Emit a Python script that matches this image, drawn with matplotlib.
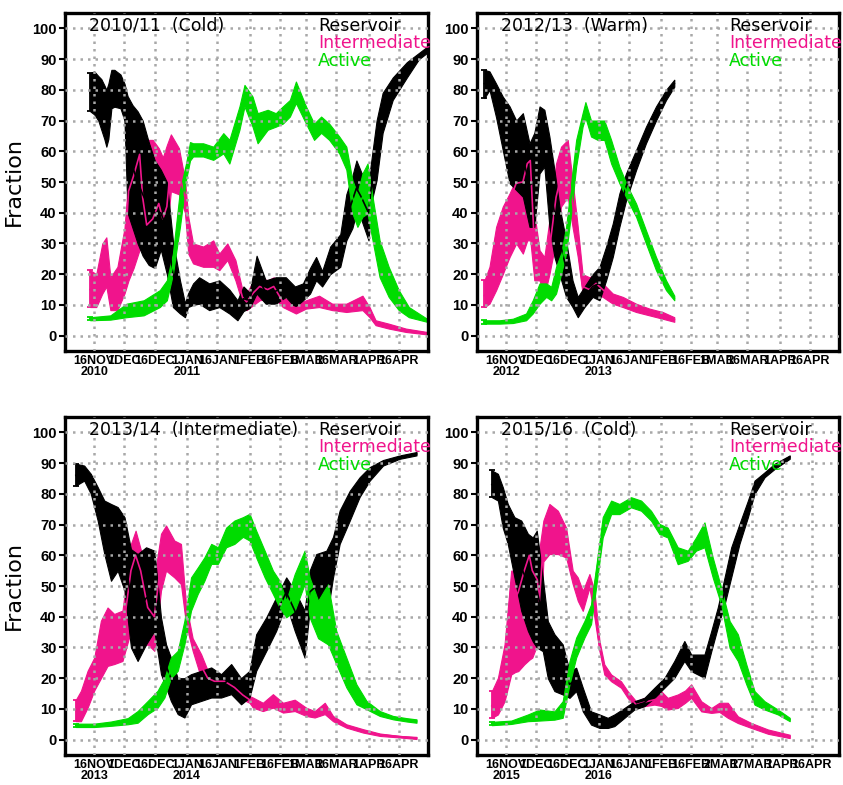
import datetime as dt
import matplotlib
matplotlib.use("Agg")
import matplotlib.pyplot as plt
from matplotlib import font_manager

# ---------------- data ----------------
SEASONS = ["2010/11", "2012/13", "2013/14", "2015/16"]
REGIMES = ["Cold", "Warm", "Intermediate", "Cold"]
START_YEARS = [2010, 2012, 2013, 2015]
SERIES_NAMES = ["Reservoir", "Intermediate", "Active"]

TICKS_STD = ["16NOV", "1DEC", "16DEC", "1JAN", "16JAN", "1FEB", "16FEB",
             "1MAR", "16MAR", "1APR", "16APR"]
TICKS_LEAP = ["16NOV", "1DEC", "16DEC", "1JAN", "16JAN", "1FEB", "16FEB",
              "2MAR", "17MAR", "1APR", "16APR"]
YTICKS = [0, 10, 20, 30, 40, 50, 60, 70, 80, 90, 100]

# rows: (day since 1 Nov, low, centre, high) in percent
P1_RES = [(13, 73, 79, 85.5), (15, 72, 79, 86), (17, 70, 77, 84.5), (18.5, 67, 75, 83.5),
          (20, 64, 72, 81.5), (21, 61.5, 70, 80), (22, 64, 73, 82), (23.5, 74, 80, 86.5),
          (25, 74.5, 80, 86.5), (28, 74, 79, 85), (30, 70, 76, 82), (31.5, 40, 58, 78),
          (34, 35, 55, 75), (36.5, 30, 50, 73), (39, 26, 46, 70), (42, 23, 42, 63),
          (45, 22, 40, 57), (48, 28, 40, 54), (51, 20, 35, 50), (54, 9.3, 20, 31),
          (57.5, 7.2, 12, 18), (60, 6, 8, 10.5), (61.5, 9.3, 11.5, 13.7), (64, 10, 13.5, 17),
          (67, 10.4, 15, 19), (72, 8.3, 12.5, 17), (77, 9.3, 13.5, 18), (82, 7.2, 11, 15),
          (86, 5, 8, 11.5), (89, 8, 12, 16), (92, 9, 11.5, 14), (95.5, 13.7, 20, 26),
          (100, 10.4, 14, 18), (105, 10.4, 14.5, 19), (110, 12.6, 16, 19), (114.5, 9.3, 12.5, 16),
          (118.5, 11.5, 14, 17), (122, 13.7, 18, 22), (125, 18, 22, 25.6), (128, 16, 18.5, 21),
          (132, 20, 24.5, 29), (137, 22.4, 28, 33), (140, 31, 38, 46), (143, 35, 44, 52),
          (145, 40, 48, 57), (147.5, 37.6, 45, 53), (151, 31, 40, 50), (153, 45, 52, 60),
          (155, 50.6, 60, 70), (158, 66, 72, 79), (163, 76.7, 80, 84), (170, 84, 86.5, 89),
          (176, 90, 91, 92), (180, 92, 93, 94)]
P1_INT = [(13, 9.3, 15, 21.3), (16, 9.3, 14, 20), (19, 13.7, 20, 30), (21, 16, 25, 32),
          (23, 8.3, 13, 19), (26.5, 8.3, 14, 22.4), (30, 13.7, 24, 35), (32, 18, 47, 52),
          (34.5, 22, 52, 57), (37.5, 28, 59, 62), (39, 28, 45, 63.5), (41, 27, 36, 63.7),
          (44, 27, 38, 63.7), (47, 28, 43, 61), (49, 30, 38, 58), (51, 34, 42, 62),
          (53, 47, 56, 65.5), (57, 46, 53, 61), (60, 40, 45, 50.6), (61.6, 26.7, 32, 38.7),
          (64, 23.5, 27, 30), (69, 22.4, 26, 29), (74, 22.4, 27, 31), (77, 21.3, 24, 26.7),
          (81, 24.6, 27, 30), (85, 18, 21, 24.6), (88.5, 10.4, 12.5, 14.8), (90.5, 8.3, 11, 13.7),
          (94, 10, 14, 18), (97, 11.5, 16, 19), (101, 12, 15, 18), (104, 12.6, 16, 19),
          (108.5, 9.3, 11, 12.6), (115, 7.2, 9, 10.4), (120, 8.8, 10, 11.5), (126.5, 9.3, 11, 13),
          (133, 8.3, 9.5, 10.4), (140, 7.7, 9, 10.4), (148, 8.3, 10.5, 13), (151.5, 6, 7.5, 9.3),
          (154.5, 3.4, 4.2, 5), (161, 2.3, 3, 3.9), (169.5, 1.2, 1.8, 2.3), (180, 0.4, 0.8, 1.2)]
P1_ACT = [(13, 5, 5.5, 6), (23, 5.2, 6, 6.6), (31, 6, 8, 10.4), (39.5, 6.6, 9, 11.5),
          (47.5, 9.3, 12, 14.8), (51, 11.5, 14.5, 18), (54, 20, 23, 26.7), (57.5, 35.4, 41, 47.4),
          (60.5, 50.6, 53, 56), (62.5, 57, 60, 63), (64, 58.3, 60.5, 62.6), (69, 58.3, 60.5, 62.6),
          (74, 57.2, 59, 61.5), (79, 59.3, 62.5, 65.9), (82, 56, 60, 63.7), (87, 67, 71, 74.6),
          (89.5, 74.6, 78, 81.6), (93.5, 68, 73, 77.8), (96, 62.6, 67.5, 72.4), (101, 67, 70, 73.5),
          (105, 68, 70, 72.4), (108.5, 69, 72, 74.6), (112, 71.3, 74, 76.7), (115, 75.7, 79, 82.7),
          (120, 69, 72, 74.6), (124, 63.7, 66.5, 69), (127.5, 66, 68.5, 71.3), (131.5, 63.7, 66.5, 69),
          (136.5, 59.3, 62, 64.8), (140, 54, 58, 61.5), (143, 39.8, 45, 50.6), (145.5, 35.4, 41, 46.3),
          (148, 38.7, 45, 52.8), (150.5, 39.8, 48, 56), (153, 31, 38, 45.2), (156.5, 19, 25, 31),
          (161, 12.6, 17.5, 22.4), (166, 8.3, 11.5, 14.8), (171, 6, 7.6, 9.3), (180, 4.5, 5, 5.5)]

P2_RES = [(4.2, 77.3, 82, 86.5), (6.7, 80, 83, 86), (10, 71, 76.5, 82), (13.3, 60.4, 69, 77.8),
          (16.7, 49.6, 62, 74.6), (20, 47.4, 58, 70), (23.3, 45.2, 58, 72.4), (26.6, 35.4, 49, 62.6),
          (29, 35.4, 50, 66), (31.6, 52.8, 63, 74.6), (34, 55, 64, 73.5), (36.5, 35.4, 50, 64.8),
          (39, 25.6, 40, 53.9), (41.5, 20, 31, 42), (44.8, 12.6, 22, 31), (48, 9.3, 14, 18),
          (50.6, 6, 9, 12.6), (53.9, 9.3, 12.5, 15.9), (58, 12.6, 16, 20), (61.4, 11.5, 17, 22.4),
          (64.7, 18, 23.5, 29), (68, 25.6, 31, 36.5), (71.3, 35.4, 41, 46.3), (74.6, 44, 48.5, 52.8),
          (79.6, 53.9, 57, 60.4), (84.5, 62.6, 65, 68), (89.5, 70, 72, 74.6), (94.5, 76.7, 78, 80),
          (98.6, 81, 82, 83.3)]
P2_INT = [(4.2, 9.3, 13, 18), (6.7, 10.4, 16, 22.4), (10, 14.8, 25, 35.4), (13.3, 20, 31, 42),
          (16.7, 25.6, 44, 46.3), (20, 30, 49.6, 51), (23.3, 26.7, 50, 52), (25.5, 31, 56, 57),
          (27, 31, 57, 58), (29, 18, 30, 40), (31.6, 18, 22, 27.8), (34, 13, 18, 25.6),
          (36.5, 20, 28, 37.6), (39.8, 31, 45, 56), (42.3, 42, 52, 61.5), (45.6, 45.2, 55, 63.7),
          (48, 35.4, 43, 50.6), (50.6, 25.6, 30, 35.4), (53, 13.7, 16, 20), (56.4, 12.6, 15, 19),
          (59.7, 13.7, 17, 20), (63, 12.6, 15, 17), (68, 10.4, 12, 13.7), (73, 9.3, 11, 12.6),
          (79.6, 7.7, 9, 10.4), (86.2, 6.6, 7.7, 8.8), (92.8, 5.5, 6.6, 7.7), (98.6, 4.5, 5.2, 6)]
P2_ACT = [(4.2, 3.9, 4.4, 5), (11.7, 3.9, 4.4, 5), (18.3, 4.1, 4.8, 5.5), (24.9, 5, 6, 7.2),
          (28.2, 7.2, 9, 11.5), (31.6, 10.4, 14, 17), (34.9, 12.6, 15, 17), (37.4, 11.5, 13.5, 15.9),
          (39.8, 13.7, 18, 22.4), (42.3, 20, 23.5, 26.7), (44.8, 26.7, 31, 35.4), (47.3, 39.8, 45, 49.6),
          (49.8, 55, 59, 63.7), (53, 68, 70, 72.4), (54.4, 71, 73.5, 76), (57.2, 64.8, 67.5, 70),
          (60.5, 63.7, 67, 70), (63.8, 63.7, 67, 70), (67.2, 56, 60, 63.7), (71.3, 49.6, 52, 55),
          (75.4, 44, 46, 48.5), (79.6, 38.7, 41, 43), (84.5, 30, 32, 34.3), (89.5, 21.3, 23.5, 25.6),
          (94.5, 14.8, 16.5, 18), (98.6, 11.5, 12.2, 13)]

P3_RES = [(5.9, 82.7, 86, 89.8), (10, 84.3, 87, 89.2), (13.3, 80, 83, 86.5), (16.7, 71.3, 77, 82.2),
          (20, 60.4, 69, 77.8), (23.3, 51.7, 64, 76.7), (26.6, 55, 65, 75.7), (30, 48.5, 60, 72.4),
          (33.2, 30, 46, 62), (36.5, 25.6, 42, 60.4), (40.7, 31, 46, 62.6), (44.8, 35.4, 48, 61.5),
          (48.1, 21.3, 30, 39.8), (50.6, 17, 24, 31), (53, 12.6, 20, 26.7), (56.4, 8.3, 14, 20),
          (59.7, 7.2, 13, 20), (63, 11.5, 16, 21.3), (68, 12.6, 17, 22.4), (73, 13.7, 18, 23.5),
          (77.9, 13.7, 17.5, 21.3), (82.9, 14.8, 20, 24.6), (87.8, 11.5, 16, 20), (92, 13.7, 18, 22.4),
          (95.3, 22.4, 28, 34.3), (100.3, 28.9, 34, 39.8), (105.2, 35.4, 41, 46.3), (110.2, 44, 48, 52.8),
          (114.4, 35.4, 42, 48.5), (119.3, 26.7, 34, 42), (121.8, 42, 48, 55), (125.1, 39.8, 50, 60.4),
          (130.1, 38.7, 50, 61.5), (133.4, 52.8, 59, 66), (136.7, 63.7, 69, 74.6), (141.7, 71.3, 76, 81),
          (146.6, 79, 82, 85.4), (151.6, 84.3, 86.5, 88.7), (158.2, 89.2, 90, 91), (166.5, 91.4, 92, 92.5),
          (174.8, 92.5, 93, 93.6)]
P3_INT = [(5.9, 6, 9.5, 13), (8.4, 6, 10, 15.9), (11.7, 10.4, 16, 22.4), (15, 16, 21, 26.7),
          (18.3, 20, 29, 38.7), (21.6, 24, 34, 43), (24.9, 24.6, 33, 40.9), (29, 25.6, 34, 42),
          (33.2, 35.4, 55, 63.7), (35.5, 30, 60, 68), (38, 30, 55, 62), (41.5, 31, 43, 54),
          (44.8, 28.9, 40, 52.8), (48.1, 48.5, 58, 67), (50.6, 55, 62, 69.7), (54.7, 52.8, 59, 64.8),
          (58, 50.6, 57, 63.7), (60.5, 37.6, 41, 44), (63.8, 28.9, 31, 33), (68, 20, 24, 27.8),
          (71.3, 18, 20, 22.4), (74.6, 17, 19, 21.3), (79.6, 17, 19, 21.3), (84.5, 14.8, 17, 19),
          (88.7, 13, 14.5, 16), (92, 12, 13, 14.2), (93.7, 10.4, 12, 13.7), (98.6, 9.3, 10.5, 12),
          (103.6, 10.4, 12.5, 14.8), (108.6, 8.8, 10.5, 12), (114.4, 9.3, 11, 13), (120.1, 7.7, 9, 10.4),
          (124.3, 7.2, 8.2, 9.3), (129.3, 8.3, 10, 12), (133.4, 6, 7, 7.7), (140, 3.9, 4.5, 5),
          (148.3, 2.3, 2.8, 3.4), (156.6, 1.2, 1.6, 2), (166.5, 0.7, 1, 1.2), (174.8, 0.2, 0.5, 0.9)]
P3_ACT = [(5.9, 4.1, 4.6, 5.2), (15, 4.1, 4.6, 5.2), (23.3, 4.5, 5.2, 5.9), (31.6, 5, 6, 7),
          (36.5, 5.5, 7.4, 9.3), (41.5, 8.3, 10.5, 12.6), (46.4, 10.4, 13, 15.9), (49.8, 13.7, 17, 20),
          (53, 20, 23, 26.7), (56.4, 22.4, 25.5, 28.9), (59.7, 31, 35, 38.7), (63, 42, 47, 52.8),
          (66.3, 47.4, 51.5, 56), (69.6, 51.7, 55.5, 59.3), (73, 57.2, 60.5, 63.7), (76.3, 57.2, 60, 62.6),
          (80.4, 62.6, 66, 69), (84.5, 63.7, 67.5, 71.3), (88.7, 66, 69, 72.4), (92, 64.8, 69, 73.5),
          (95.3, 59.3, 63.5, 68), (99.5, 52.8, 57, 61.5), (103.6, 47.4, 51, 55), (106.9, 43, 47, 51.7),
          (110.2, 39.8, 42.5, 45.2), (114.4, 42, 48, 53.9), (119.3, 50.6, 56, 61.5), (121.8, 39.8, 46, 52.8),
          (126, 33, 39, 45.2), (130.9, 31, 41, 50.6), (135, 24.6, 30, 35.4), (140, 17, 22, 26.7),
          (145, 11.5, 15, 18), (150, 9.9, 11, 12.6), (156.6, 7.7, 8.5, 9.3), (163.2, 6.6, 7.2, 7.7),
          (169.9, 5.9, 6.5, 7), (174.8, 5.5, 6, 6.6)]

P4_RES = [(7.9, 78.9, 83, 87.6), (10.9, 77.8, 82, 86.5), (13.3, 69, 75.5, 82.2), (15.8, 63.7, 70, 76.7),
          (19.1, 52.8, 62, 72.4), (22.5, 41.9, 56, 71.3), (25.8, 35.4, 51, 67), (28.2, 32, 48, 65.8),
          (30.2, 30, 49, 68), (33.2, 28.8, 40, 52.8), (35.7, 20, 29, 38.6), (39, 15.8, 25, 34.3),
          (43.1, 14.7, 23, 31), (46.5, 13.6, 18, 22.3), (49.8, 15.8, 19.5, 23.4), (53.1, 9.2, 13, 16.9),
          (57.2, 4.9, 7, 9.2), (61.4, 3.8, 6, 8.2), (65.5, 3.8, 5.5, 7.1), (68.8, 4.4, 6.3, 8.2),
          (73.8, 7.1, 8.7, 10.3), (78.7, 9.8, 11, 12.5), (83.7, 10.9, 12, 13.6), (88.7, 13.6, 15, 16.9),
          (93.7, 16.9, 18.5, 20.1), (98.6, 20.1, 23, 25.6), (103.6, 25.6, 29, 32.1), (107, 22.3, 25, 27.7),
          (110.3, 21.2, 24.5, 27.7), (113.6, 20.1, 24, 27.7), (117, 28.8, 32, 35.4), (120.2, 36.5, 40, 43),
          (123.6, 44, 48, 52.8), (126.9, 52.8, 57.5, 62.6), (131, 63.7, 67, 70.2), (135.2, 72.4, 75, 77.8),
          (138.5, 80, 82, 84.3), (143.5, 85.4, 86.2, 87), (148.5, 88.1, 89, 89.8), (156, 91.4, 92, 92.5)]
P4_INT = [(7.9, 7.1, 11, 15.8), (10.9, 8.2, 14, 20.1), (14.2, 12.5, 22, 31), (17.5, 21.2, 51, 55),
          (19.5, 22, 46, 55), (21, 22.3, 48, 56), (24, 24.5, 55, 59), (26.5, 26, 60, 62),
          (28, 26.7, 55, 62), (30.5, 31, 52, 60), (31.5, 30, 45, 62), (33.5, 58, 64, 71.3),
          (36.5, 60.4, 68, 76.7), (40.7, 60.4, 67, 74.5), (44.8, 59.3, 64, 69), (48.1, 50.6, 53, 55),
          (50.6, 45.2, 49, 52.8), (53.1, 41.9, 45, 48.4), (56.4, 49.5, 51.5, 53.9), (58.9, 39.7, 44, 48.4),
          (61.4, 28.8, 30.5, 32.1), (63.8, 21.2, 23, 24.5), (67.2, 19, 20, 21.2), (72.1, 16.9, 18, 19),
          (75.4, 13.6, 14.7, 15.8), (79.6, 10.3, 11.4, 12.5), (83.7, 10.9, 12.2, 13.6), (88.7, 11.4, 13, 14.7),
          (92, 11, 13.4, 15.8), (95.3, 9.8, 11.7, 13.6), (100.3, 10.3, 12.5, 14.7), (104, 12, 14, 16),
          (107, 13.6, 15.8, 18), (112, 9.2, 10.8, 12.5), (117, 8.7, 9.5, 10.3), (121, 9, 10.5, 12),
          (125.2, 7.1, 9.5, 12), (130.2, 5.4, 6.5, 7.6), (136.9, 3.8, 4.6, 5.4), (145.2, 1.9, 2.6, 3.3),
          (156, 0.5, 1, 1.6)]
P4_ACT = [(7.9, 4.7, 5.2, 5.8), (17.5, 5.1, 5.6, 6.2), (25.8, 6, 7, 8.2), (31.6, 6.2, 8, 9.8),
          (39, 6.5, 7.8, 9.2), (43.1, 7.1, 9.8, 12.5), (46.5, 18, 22, 25.6), (49.8, 26.7, 30, 33.2),
          (53.9, 33.2, 36, 38.6), (57.2, 37.6, 41, 44), (59.7, 49.5, 53, 56), (63, 65.8, 69, 72.4),
          (67.2, 73.4, 75.5, 77.8), (71.3, 73.4, 75, 76.7), (77.1, 75.6, 77, 78.9), (82.1, 74.5, 76, 77.8),
          (87, 71.3, 73, 74.5), (91.2, 66.9, 68.5, 70.2), (95.3, 65.8, 67.5, 69), (100.3, 57.1, 60, 62.6),
          (105.3, 58.2, 60, 61.5), (109.4, 61.5, 63.5, 65.8), (113.6, 62.6, 66, 70.7), (117.7, 52.8, 56, 59.3),
          (121.9, 44, 47, 49.5), (126.1, 29.9, 34, 38.6), (130.2, 25.6, 30, 34.3), (134.4, 18, 21, 24.5),
          (138.5, 11.4, 13.5, 15.8), (143.5, 9.8, 11, 12.5), (150.1, 8.2, 9, 9.8), (156, 6, 6.5, 7.1)]

PANEL_DATA = [(P1_RES, P1_INT, P1_ACT), (P2_RES, P2_INT, P2_ACT),
              (P3_RES, P3_INT, P3_ACT), (P4_RES, P4_INT, P4_ACT)]
PANEL_TICKS = [TICKS_STD, TICKS_STD, TICKS_STD, TICKS_LEAP]

# ---------------- style ----------------
COLORS = {"Reservoir": "#000000", "Intermediate": "#F0148C", "Active": "#00DC00"}
GRID_COLOR = "#A8A8A8"
MONTHS = {"NOV": 11, "DEC": 12, "JAN": 1, "FEB": 2, "MAR": 3, "APR": 4}


def pick_font(names):
    for n in names:
        try:
            font_manager.findfont(n, fallback_to_default=False)
            return n
        except Exception:
            continue
    return "DejaVu Sans"


NARROW = pick_font(["Liberation Sans Narrow", "DejaVu Sans Condensed", "Liberation Sans"])
ROUND = pick_font(["DejaVu Sans"])


def tick_day(label, y0):
    mon = MONTHS[label[-3:]]
    day = int(label[:-3])
    year = y0 if mon >= 11 else y0 + 1
    return (dt.date(year, mon, day) - dt.date(y0, 11, 1)).days


fig = plt.figure(figsize=(8.43, 7.85), dpi=100)
W, H = 843.0, 785.0
boxes = [(65, 13, 428, 351), (477, 13, 839, 351), (65, 417, 428, 755), (477, 417, 839, 755)]

for i, (x0, y0, x1, y1) in enumerate(boxes):
    ax = fig.add_axes([x0 / W, 1 - y1 / H, (x1 - x0) / W, (y1 - y0) / H])
    res, inter, act = PANEL_DATA[i]
    series = {"Reservoir": res, "Intermediate": inter, "Active": act}
    order = ["Intermediate", "Reservoir", "Active"]
    for name in order:
        rows = series[name]
        d = [r[0] for r in rows]
        lo = [r[1] for r in rows]
        hi = [r[3] for r in rows]
        c = COLORS[name]
        ax.fill_between(d, lo, hi, facecolor=c, edgecolor=c, linewidth=0.8, zorder=1)
        ax.errorbar([d[0]], [rows[0][2]], yerr=[[rows[0][2] - lo[0]], [hi[0] - rows[0][2]]],
                    color=c, capsize=2.5, elinewidth=1.3, capthick=1.3, zorder=1.5)
    for name in order:
        rows = series[name]
        ax.plot([r[0] for r in rows], [r[2] for r in rows], color=COLORS[name],
                lw=1.2, zorder=2)

    ax.set_xlim(0.5, 180.5)
    ax.set_ylim(-5, 105)
    ax.set_yticks(YTICKS)
    ax.set_yticklabels([str(v) for v in YTICKS], fontweight="bold", fontsize=10.5,
                       family=[NARROW, "DejaVu Sans"])
    y_start = START_YEARS[i]
    tlabels = PANEL_TICKS[i]
    tpos = [tick_day(t, y_start) for t in tlabels]
    lab = []
    for t in tlabels:
        if t == "16NOV":
            lab.append(t + "\n" + str(y_start))
        elif t == "1JAN":
            lab.append(t + "\n" + str(y_start + 1))
        else:
            lab.append(t)
    ax.set_xticks(tpos)
    ax.set_xticklabels(lab, fontweight="bold", fontsize=9, family=[NARROW, "DejaVu Sans"],
                       linespacing=0.9)
    ax.tick_params(axis="x", length=0, pad=3)
    ax.tick_params(axis="y", direction="out", length=4, width=1.5, pad=2)
    ax.set_axisbelow(False)
    ax.grid(True, color=GRID_COLOR, linestyle=(0, (1, 2)), linewidth=1.8)
    for sp in ax.spines.values():
        sp.set_linewidth(2.4)

    ax.text(0.066, 0.962, SEASONS[i] + "  (" + REGIMES[i] + ")", transform=ax.transAxes,
            ha="left", va="center", fontsize=12.5, family=ROUND, color="black")
    for k, name in enumerate(SERIES_NAMES):
        ax.text(0.697, 0.962 - k * 0.052, name, transform=ax.transAxes, ha="left",
                va="center", fontsize=12.5, family=ROUND, color=COLORS[name], clip_on=False)
    if i in (0, 2):
        ax.set_ylabel("Fraction", fontsize=16, labelpad=6)

fig.savefig("out.png", dpi=100)
